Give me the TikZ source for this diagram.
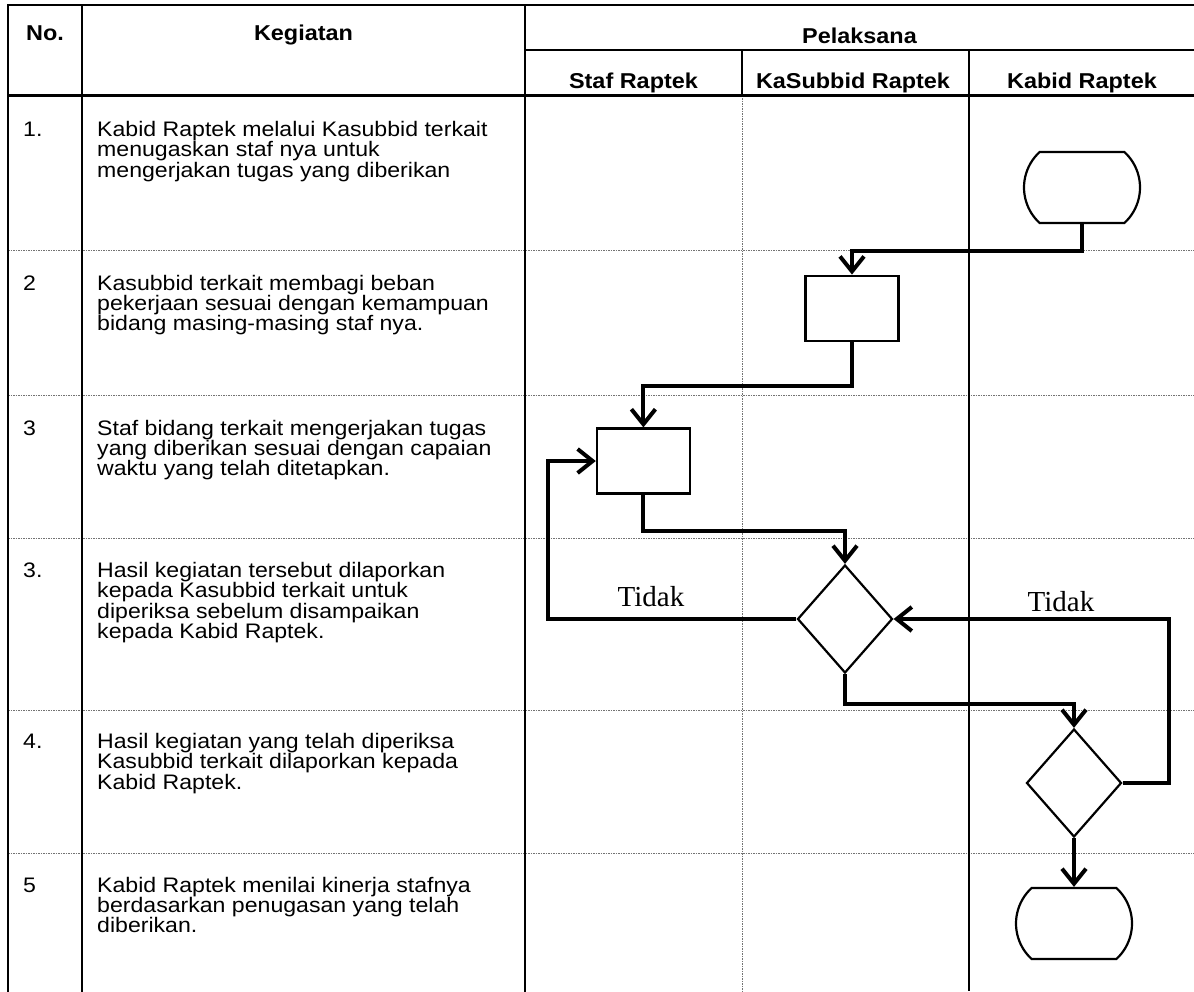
\documentclass[tikz,border=0pt]{standalone}
\usepackage{fontspec}
\setmainfont{Liberation Sans}
\newfontfamily\bodyfont[FakeStretch=1.1]{Liberation Sans}
\newfontfamily\headfont[FakeStretch=1.09]{Liberation Sans}
\newfontfamily\seriffont{Liberation Serif}
\usetikzlibrary{shapes.geometric,shapes.misc,arrows.meta}
\newcommand\celltext[1]{\vtop{\baselineskip=20.4pt\lineskiplimit=-30pt\halign{##\hfil\cr #1\crcr}}}
\tikzset{
  tline/.style={line width=2.6pt, line cap=rect},
  vthin/.style={line width=1.8pt},
  gridl/.style={black!55, line width=1pt, dash pattern=on 1.5pt off 1pt},
  body/.style={font=\bodyfont\fontsize{21pt}{20.4pt}\selectfont, inner sep=0pt, anchor=base west},
  head/.style={font=\headfont\bfseries\fontsize{21.5pt}{24pt}\selectfont, inner sep=0pt, anchor=base},
  lbl/.style={font=\seriffont\fontsize{29pt}{32pt}\selectfont, inner sep=0pt, anchor=base},
  procbox/.style={draw, line width=2.2pt, fill=white, rectangle, inner sep=0pt, minimum width=93pt, minimum height=65pt},
  decide/.style={draw, line width=2.2pt, fill=white, diamond, inner sep=0pt, minimum width=95pt, minimum height=108pt},
  term/.style={draw, line width=2.2pt, fill=white, rounded rectangle, rounded rectangle arc length=95, inner sep=0pt, minimum width=116pt, minimum height=71pt},
  conn/.style={line width=4pt, line join=miter, -{Straight Barb[length=15pt,width=24pt]}}
}
\begin{document}
\begin{tikzpicture}[x=1pt,y=-1pt]
\useasboundingbox (0,0) rectangle (1194,991);
% grid lines
\foreach \yy in {250,395,538,710,853} \draw[gridl] (8,\yy) -- (1194,\yy);
\draw[gridl] (742,95.5) -- (742,991);
% table frame
\draw[tline] (8,5) -- (1194,5);
\draw[tline] (8,5) -- (8,991);
\draw[tline] (82,5) -- (82,991);
\draw[tline] (525,5) -- (525,991);
\draw[tline] (525,50) -- (1194,50);
\draw[tline] (8,95.5) -- (1194,95.5);
\draw[line width=2.2pt] (742,50) -- (742,95.5);
\draw[vthin] (969,50) -- (969,991);
% headers
\node[head] (hno) at (45,40) {No.};
\node[head] (hkeg) at (303.5,40) {Kegiatan};
\node[head] (hpel) at (859.5,43) {Pelaksana};
\node[head] (hstaf) at (633.5,88) {Staf Raptek};
\node[head] (hkasub) at (853,88) {KaSubbid Raptek};
\node[head] (hkabid) at (1082,88) {Kabid Raptek};
% numbers
\node[body] (n1) at (23,136.5) {1.};
\node[body] (n2) at (23,290) {2};
\node[body] (n3) at (23,435) {3};
\node[body] (n4) at (23,577.5) {3.};
\node[body] (n5) at (23,748.5) {4.};
\node[body] (n6) at (23,892) {5};
% activities
\node[body] (k1) at (97,136.5) {\celltext{Kabid Raptek melalui Kasubbid terkait\cr menugaskan staf nya untuk\cr mengerjakan tugas yang diberikan}};
\node[body] (k2) at (97,290) {\celltext{Kasubbid terkait membagi beban\cr pekerjaan sesuai dengan kemampuan\cr bidang masing-masing staf nya.}};
\node[body] (k3) at (97,435) {\celltext{Staf bidang terkait mengerjakan tugas\cr yang diberikan sesuai dengan capaian\cr waktu yang telah ditetapkan.}};
\node[body] (k4) at (97,577.5) {\celltext{Hasil kegiatan tersebut dilaporkan\cr kepada Kasubbid terkait untuk\cr diperiksa sebelum disampaikan\cr kepada Kabid Raptek.}};
\node[body] (k5) at (97,748.5) {\celltext{Hasil kegiatan yang telah diperiksa\cr Kasubbid terkait dilaporkan kepada\cr Kabid Raptek.}};
\node[body] (k6) at (97,892) {\celltext{Kabid Raptek menilai kinerja stafnya\cr berdasarkan penugasan yang telah\cr diberikan.}};
% flow shapes
\node[term] (start) at (1082,187.5) {};
\node[procbox] (box1) at (852,308.2) {};
\node[procbox] (box2) at (643.4,461) {};
\node[decide] (d1) at (845,619) {};
\node[decide] (d2) at (1074,783) {};
\node[term] (stop) at (1074,923.5) {};
\coordinate (lp) at (548,540);
\coordinate (rp) at (1169,700);
% connectors
\draw[conn] (start.south) -- ++(0,27) -| (box1.north);
\draw[conn] (box1.south) -- ++(0,44) -| (box2.north);
\draw[conn] (box2.south) -- ++(0,36) -| (d1.north);
\draw[conn] (d1.west) -- (d1.west -| lp) |- (box2.west);
\draw[conn] (d1.south) -- ++(0,30) -| (d2.north);
\draw[conn] (d2.east) -- (d2.east -| rp) |- (d1.east);
\draw[conn] (d2.south) -- (stop.north);
% labels
\node[lbl] (tid1) at (651,606) {Tidak};
\node[lbl] (tid2) at (1061,611) {Tidak};
\end{tikzpicture}
\end{document}
